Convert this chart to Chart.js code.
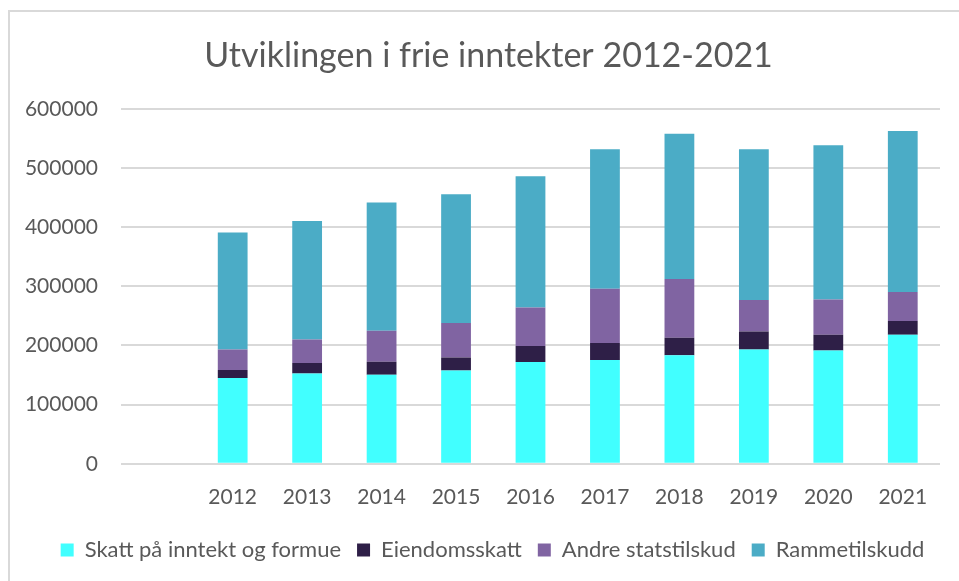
<!DOCTYPE html>
<html>
<head>
<meta charset="utf-8">
<script src="https://cdn.jsdelivr.net/npm/chart.js@4"></script>
<style>
  html, body { margin: 0; padding: 0; background: #fff; overflow: hidden; }
  #frame {
    position: absolute; left: 8px; top: 10px; width: 1000px; height: 640px;
    border-left: 2px solid #d9d9d9; border-top: 2px solid #d9d9d9;
  }
  #wrap { position: absolute; left: 0; top: 0; width: 959px; height: 581px; }
</style>
</head>
<body>
<div id="frame"></div>
<div id="wrap"><canvas id="chart"></canvas></div>
<script>
// first slot is empty in the original chart
const years = ['', '2012', '2013', '2014', '2015', '2016', '2017', '2018', '2019', '2020', '2021'];
const skatt = [null, 145000, 152500, 150500, 157500, 172000, 175500, 183500, 193000, 191500, 218000];
const eiendomsskatt = [null, 13500, 18000, 22000, 22000, 27000, 28500, 29500, 30500, 26500, 23500];
const andreTilskudd = [null, 34500, 39500, 52500, 58500, 65000, 92000, 99500, 53500, 59500, 49000];
const rammetilskudd = [null, 198000, 200500, 216500, 217500, 222000, 235500, 245500, 254500, 261000, 272000];
const yTicks = [0, 100000, 200000, 300000, 400000, 500000, 600000];

const textColor = '#595959';
const font = 'Lato, "Open Sans", sans-serif';

function series(label, data, color) {
    return {
        label: label,
        data: data,
        backgroundColor: color,
        borderWidth: 0,
        barPercentage: 0.8,
        categoryPercentage: 0.5,
    };
}

// title and legend sit a bit right of the canvas centre in the original
const nudge = {
    id: 'nudge',
    afterLayout(chart) {
        chart.titleBlock.left += 16;
        chart.titleBlock.right += 16;
        chart.legend.left += 20;
        chart.legend.right += 20;
    },
};

new Chart(document.getElementById('chart').getContext('2d'), {
    type: 'bar',
    data: {
        labels: years,
        datasets: [
            series('Skatt på inntekt og formue', skatt, '#41ffff'),
            series('Eiendomsskatt', eiendomsskatt, '#2e1f47'),
            series('Andre statstilskud', andreTilskudd, '#8064a2'),
            series('Rammetilskudd', rammetilskudd, '#4bacc6'),
        ],
    },
    plugins: [nudge],
    options: {
        responsive: true,
        maintainAspectRatio: false,
        animation: false,
        layout: { padding: { left: 5, right: 19, top: 36, bottom: 10 } },
        plugins: {
            title: {
                display: true,
                text: 'Utviklingen i frie inntekter 2012-2021',
                color: textColor,
                font: { family: font, size: 34, weight: 'normal' },
                padding: { top: 0, bottom: 32 },
            },
            legend: {
                position: 'bottom',
                labels: {
                    color: textColor,
                    font: { family: font, size: 22 },
                    boxWidth: 13,
                    boxHeight: 13,
                    padding: 16,
                },
            },
            tooltip: { enabled: false },
        },
        scales: {
            x: {
                stacked: true,
                grid: { display: false },
                border: { display: false },
                ticks: { color: textColor, font: { family: font, size: 21 }, padding: 13, maxRotation: 0 },
            },
            y: {
                stacked: true,
                min: 0,
                max: 600000,
                afterBuildTicks: (axis) => { axis.ticks = yTicks.map((v) => ({ value: v })); },
                afterFit: (axis) => { axis.width = 116; },
                grid: { color: '#d9d9d9', lineWidth: 2, drawTicks: false },
                border: { display: false },
                ticks: {
                    color: textColor,
                    font: { family: font, size: 21 },
                    padding: 23,
                    callback: (v) => String(v),
                },
            },
        },
    },
});
</script>
</body>
</html>
